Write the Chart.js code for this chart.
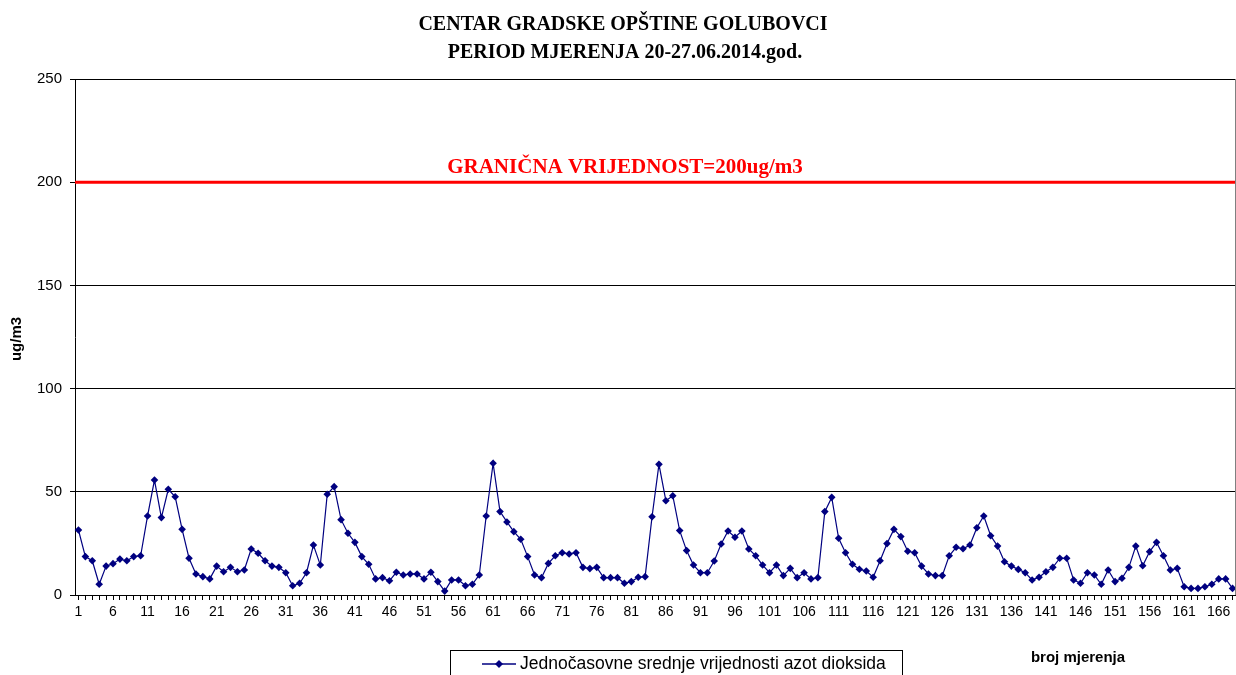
<!DOCTYPE html>
<html lang="sr">
<head>
<meta charset="UTF-8">
<title>Centar gradske opštine Golubovci</title>
<script src="https://cdn.jsdelivr.net/npm/chart.js"></script>
<style>
  html, body { margin: 0; background: #fff; overflow: hidden; }
  #wrap { width: 1236px; height: 675px; position: relative; }
  canvas { display: block; }
</style>
</head>
<body>
<div id="wrap"><canvas id="no2Chart"></canvas></div>
<script>
// broj mjerenja 1..168
const mjerenja = [];
for (let i = 1; i <= 168; i++) mjerenja.push(i);

// jednočasovne srednje vrijednosti NO2 (ug/m3), očitano sa grafika
const vrijednosti = [
  31.5, 18.6, 16.6, 5.2, 14, 15.2, 17.4, 16.6, 18.6, 19,
  38.3, 55.7, 37.5, 51.2, 47.6, 31.8, 17.8, 10.2, 8.9, 7.8,
  14, 11.3, 13.4, 11.3, 12.1, 22.3, 20.2, 16.6, 14, 13.4,
  10.8, 4.5, 5.7, 10.8, 24.2, 14.5, 48.8, 52.5, 36.5, 29.9,
  25.5, 18.6, 14.9, 7.8, 8.4, 6.9, 11, 9.7, 10.2, 10.2,
  7.8, 11, 6.5, 1.9, 7.3, 7.3, 4.5, 5.2, 9.7, 38.3,
  63.8, 40.4, 35.4, 30.7, 27, 18.6, 9.7, 8.4, 15.3, 19,
  20.5, 19.9, 20.5, 13.4, 12.8, 13.4, 8.4, 8.4, 8.4, 5.7,
  6.5, 8.6, 8.9, 37.9, 63.3, 45.7, 48.1, 31.2, 21.5, 14.5,
  10.8, 10.8, 16.5, 24.7, 31, 28, 31, 22.3, 19, 14.5,
  10.8, 14.5, 9.4, 12.9, 8.4, 10.8, 7.8, 8.4, 40.4, 47.3,
  27.5, 20.5, 14.9, 12.5, 11.6, 8.6, 16.6, 24.9, 31.8, 28.3,
  21.2, 20.5, 14, 10.2, 9.4, 9.4, 19, 23.1, 22.4, 24.2,
  32.6, 38.3, 28.7, 23.7, 16.1, 14, 12.4, 10.8, 7.3, 8.6,
  11.3, 13.4, 17.8, 17.8, 7.3, 5.7, 10.8, 9.7, 5.2, 12.1,
  6.5, 8.1, 13.4, 23.7, 14.2, 21, 25.5, 19, 12.1, 12.9,
  4, 3.2, 3.2, 4, 5.2, 7.8, 7.8, 3.2
];

// granična vrijednost, preko cijele širine grafika
const granicnaVrijednost = 200;
const granicaX = [0, 1];
const granicaY = [granicnaVrijednost, granicnaVrijednost];

const naslov = ['CENTAR GRADSKE OPŠTINE GOLUBOVCI', 'PERIOD MJERENJA 20-27.06.2014.god.'];
const nazivSerije = 'Jednočasovne srednje vrijednosti azot dioksida';
const nazivGranice = 'GRANIČNA VRIJEDNOST=200ug/m3';

const NAVY = '#000080';

// naslov, natpisi osa, legenda i okvir
const tekstovi = {
  id: 'tekstovi',
  afterDraw(chart) {
    const ctx = chart.ctx;
    const a = chart.chartArea;
    const y = chart.scales.y;
    ctx.save();

    // desna ivica
    ctx.strokeStyle = '#808080';
    ctx.lineWidth = 1;
    ctx.beginPath();
    ctx.moveTo(a.right - 0.5, a.top);
    ctx.lineTo(a.right - 0.5, a.bottom);
    ctx.stroke();

    ctx.fillStyle = '#000';
    ctx.textAlign = 'center';
    ctx.textBaseline = 'middle';
    ctx.font = 'bold 20px "Liberation Serif"';
    ctx.fillText(naslov[0], 623, 25);
    ctx.fillText(naslov[1], 625, 53);

    ctx.fillStyle = '#ff0000';
    ctx.font = 'bold 21px "Liberation Serif"';
    ctx.fillText(nazivGranice, 625, y.getPixelForValue(granicnaVrijednost) - 15);

    ctx.fillStyle = '#000';
    ctx.font = 'bold 15px "Liberation Sans"';
    ctx.fillText('broj mjerenja', 1078, 658);

    ctx.translate(17, 339);
    ctx.rotate(-Math.PI / 2);
    ctx.fillText('ug/m3', 0, 0);
    ctx.setTransform(1, 0, 0, 1, 0, 0);

    // legenda
    ctx.strokeStyle = '#000';
    ctx.lineWidth = 1;
    ctx.strokeRect(450.5, 650.5, 452, 40);
    ctx.strokeStyle = NAVY;
    ctx.lineWidth = 1.5;
    ctx.beginPath();
    ctx.moveTo(482, 664);
    ctx.lineTo(516, 664);
    ctx.stroke();
    ctx.fillStyle = NAVY;
    ctx.beginPath();
    ctx.moveTo(499, 660);
    ctx.lineTo(503, 664);
    ctx.lineTo(499, 668);
    ctx.lineTo(495, 664);
    ctx.closePath();
    ctx.fill();
    ctx.fillStyle = '#000';
    ctx.textAlign = 'left';
    ctx.font = '17.5px "Liberation Sans"';
    ctx.fillText(nazivSerije, 520, 664);

    ctx.restore();
  }
};

new Chart(document.getElementById('no2Chart'), {
  type: 'line',
  data: {
    labels: mjerenja,
    datasets: [
      {
        label: nazivSerije,
        data: vrijednosti,
        borderColor: NAVY,
        backgroundColor: NAVY,
        borderWidth: 1.2,
        pointStyle: 'rectRot',
        pointRadius: 3.8,
        pointBorderWidth: 0,
        tension: 0
      },
      {
        label: nazivGranice,
        xAxisID: 'x2',
        data: granicaX.map((v, i) => ({ x: v, y: granicaY[i] })),
        borderColor: '#ff0000',
        borderWidth: 3,
        pointRadius: 0,
        tension: 0
      }
    ]
  },
  options: {
    responsive: true,
    maintainAspectRatio: false,
    animation: false,
    layout: { autoPadding: false, padding: { top: 79, right: 0, bottom: 55, left: 0 } },
    plugins: {
      legend: { display: false },
      title: { display: false },
      tooltip: { enabled: false }
    },
    scales: {
      x: {
        type: 'category',
        offset: true,
        grid: {
          display: true,
          drawOnChartArea: false,
          drawTicks: true,
          tickLength: 5,
          color: '#000'
        },
        border: { display: true, color: '#000', width: 1 },
        ticks: {
          autoSkip: false,
          maxRotation: 0,
          minRotation: 0,
          padding: 4,
          color: '#000',
          font: { family: 'Liberation Sans', size: 14 },
          callback: function (val, i) {
            return (i % 5 === 0) ? String(mjerenja[i]) : '';
          }
        },
        afterFit: function (s) {
          s.height = 25;
          s.paddingLeft = 0;
          s.paddingRight = 0;
        }
      },
      x2: {
        type: 'linear',
        display: false,
        min: 0,
        max: 1
      },
      y: {
        min: 0,
        max: 250,
        grid: {
          color: '#000',
          lineWidth: 1,
          drawTicks: true,
          tickLength: 5
        },
        border: { display: true, color: '#000', width: 1 },
        ticks: {
          stepSize: 50,
          padding: 8,
          color: '#000',
          font: { family: 'Liberation Sans', size: 15 }
        },
        afterFit: function (s) { s.width = 75; }
      }
    }
  },
  plugins: [tekstovi]
});
</script>
</body>
</html>
